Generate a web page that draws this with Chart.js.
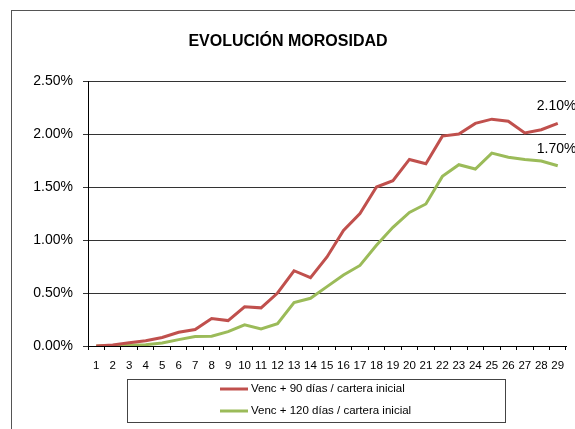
<!DOCTYPE html>
<html>
<head>
<meta charset="utf-8">
<script src="https://cdn.jsdelivr.net/npm/chart.js@4"></script>
<style>
  html, body { margin: 0; padding: 0; background: #fff; }
  canvas { display: block; }
</style>
</head>
<body>
<canvas id="moro-chart" width="575" height="429"></canvas>
<script>
const chartTitle = "EVOLUCIÓN MOROSIDAD";
const periods = ["1","2","3","4","5","6","7","8","9","10","11","12","13","14","15","16","17","18","19","20","21","22","23","24","25","26","27","28","29"];
const venc90 = [0.00, 0.01, 0.03, 0.05, 0.08, 0.13, 0.155, 0.26, 0.24, 0.37, 0.36, 0.50, 0.71, 0.645, 0.84, 1.09, 1.25, 1.50, 1.56, 1.76, 1.72, 1.98, 2.00, 2.10, 2.14, 2.12, 2.01, 2.04, 2.10];
const venc120 = [0.00, 0.005, 0.01, 0.012, 0.028, 0.06, 0.09, 0.093, 0.135, 0.20, 0.16, 0.21, 0.41, 0.45, 0.56, 0.67, 0.76, 0.95, 1.12, 1.26, 1.34, 1.60, 1.71, 1.67, 1.82, 1.78, 1.76, 1.745, 1.70];
const seriesLabels = ["Venc + 90 días / cartera inicial", "Venc + 120 días / cartera inicial"];
const seriesColors = ["#C0504D", "#9BBB59"];
const yTicks = [0, 0.5, 1, 1.5, 2, 2.5];

const fmtPct = v => v.toFixed(2) + "%";
const FONT = "'Liberation Sans', Arial, sans-serif";

// frame, title, end labels and legend box
const decorPlugin = {
    id: "decor",
    beforeDraw(chart) {
        const c = chart.ctx;
        c.save();
        c.fillStyle = "#fff";
        c.fillRect(0, 0, chart.width, chart.height);
        c.strokeStyle = "#555";
        c.lineWidth = 1;
        c.strokeRect(11.5, 10.5, 700, 500);
        c.fillStyle = "#000";
        c.font = "bold 16px " + FONT;
        c.textAlign = "center";
        c.textBaseline = "middle";
        c.fillText(chartTitle, 288, 42);
        c.restore();
    },
    afterDatasetsDraw(chart) {
        const c = chart.ctx;
        c.save();
        c.font = "14px " + FONT;
        c.fillStyle = "#000";
        c.textAlign = "left";
        c.textBaseline = "middle";
        chart.data.datasets.forEach((ds, i) => {
            const pts = chart.getDatasetMeta(i).data;
            const last = pts[pts.length - 1];
            c.fillText(fmtPct(ds.data[ds.data.length - 1]), last.x - 21, last.y - 17);
        });

        // legend
        c.strokeStyle = "#444";
        c.lineWidth = 1;
        c.strokeRect(127.5, 379.5, 378, 43);
        c.font = "11.5px " + FONT;
        chart.data.datasets.forEach((ds, i) => {
            const y = 389 + i * 22;
            c.strokeStyle = ds.borderColor;
            c.lineWidth = 3;
            c.beginPath();
            c.moveTo(220, y);
            c.lineTo(248, y);
            c.stroke();
            c.fillStyle = "#000";
            c.fillText(ds.label, 251, y);
        });
        c.restore();
    }
};

new Chart(document.getElementById("moro-chart").getContext("2d"), {
    type: "line",
    data: {
        labels: periods,
        datasets: [
            { label: seriesLabels[0], data: venc90, borderColor: seriesColors[0], borderWidth: 3, pointRadius: 0, tension: 0 },
            { label: seriesLabels[1], data: venc120, borderColor: seriesColors[1], borderWidth: 3, pointRadius: 0, tension: 0 },
        ],
    },
    options: {
        responsive: false,
        animation: false,
        layout: { padding: { top: 81, right: 9, left: 0, bottom: 0 } },
        plugins: {
            legend: { display: false },
            title: { display: false },
            tooltip: { enabled: false },
        },
        scales: {
            x: {
                offset: true,
                afterFit: s => { s.height = 83; },
                grid: { offset: true, drawOnChartArea: false, drawTicks: true, tickLength: 4, color: "#000" },
                border: { display: true, color: "#000" },
                ticks: { color: "#000", font: { family: FONT, size: 11.5 }, padding: 9, maxRotation: 0, autoSkip: false },
            },
            y: {
                min: 0,
                max: 2.5,
                afterFit: s => { s.width = 88; },
                afterBuildTicks: s => { s.ticks = yTicks.map(v => ({ value: v })); },
                grid: { color: "#333", tickLength: 5, drawTicks: true },
                border: { display: true, color: "#000" },
                ticks: { color: "#000", font: { family: FONT, size: 14 }, padding: 10, callback: v => fmtPct(v) },
            },
        },
    },
    plugins: [decorPlugin],
});
</script>
</body>
</html>
